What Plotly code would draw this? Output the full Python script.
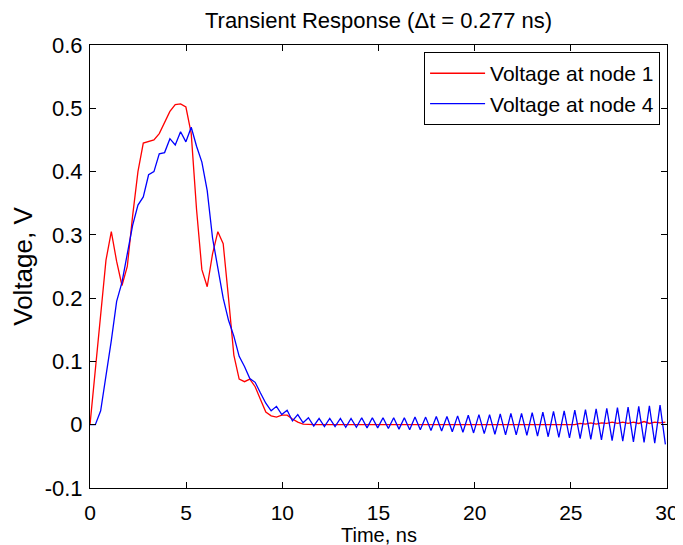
import plotly.graph_objects as go

dt = 0.277  # ns, time step from title
n_samples = 109

node1_v = [
    0.0, 0.09, 0.175, 0.26, 0.305, 0.258, 0.22, 0.25, 0.33, 0.40,
    0.445, 0.448, 0.45, 0.46, 0.478, 0.495, 0.506, 0.507, 0.502, 0.46,
    0.34, 0.245, 0.218, 0.27, 0.305, 0.286, 0.20, 0.11, 0.072, 0.068,
    0.072, 0.06, 0.04, 0.02, 0.014, 0.012, 0.015, 0.015, 0.009, 0.004,
    0.001, 0.0, 0.0, 0.0, 0.0, 0.0, 0.0, 0.0, 0.0, 0.0,
    0.0, 0.0, 0.0, 0.0, 0.0, 0.0, 0.0, 0.0, 0.0, 0.0,
    0.0, 0.0, 0.0, 0.0, 0.0, 0.0, 0.0, 0.0, 0.0, 0.0,
    0.0, 0.0, 0.0, 0.0, 0.0, 0.0, 0.0, 0.0, 0.0, 0.0,
    0.0, 0.0, 0.0, 0.0, 0.0, 0.0, 0.0, 0.0, 0.0, 0.0,
    0.001, 0.0, 0.002, 0.001, 0.003, 0.001, 0.003, 0.002, 0.004, 0.002,
    0.004, 0.002, 0.004, 0.002, 0.005, 0.002, 0.004, 0.003, 0.004,
]

node4_v = [
    0.0, 0.0, 0.022, 0.075, 0.133, 0.195, 0.225, 0.27, 0.315, 0.347,
    0.36, 0.395, 0.40, 0.428, 0.43, 0.452, 0.442, 0.463, 0.447, 0.47,
    0.44, 0.415, 0.37, 0.295, 0.245, 0.20, 0.165, 0.14, 0.108, 0.092,
    0.073, 0.067, 0.05, 0.034, 0.022, 0.029, 0.016, 0.023, 0.006, 0.016,
    0.003, 0.011, -0.002, 0.010, -0.003, 0.010, -0.003, 0.010, -0.004, 0.010,
    -0.004, 0.011, -0.005, 0.011, -0.005, 0.011, -0.006, 0.011, -0.007, 0.011,
    -0.008, 0.012, -0.008, 0.012, -0.009, 0.013, -0.010, 0.013, -0.011, 0.014,
    -0.012, 0.015, -0.013, 0.016, -0.014, 0.016, -0.015, 0.017, -0.016, 0.018,
    -0.016, 0.018, -0.017, 0.019, -0.018, 0.020, -0.019, 0.021, -0.020, 0.022,
    -0.021, 0.023, -0.022, 0.024, -0.023, 0.025, -0.024, 0.026, -0.025, 0.027,
    -0.026, 0.028, -0.027, 0.029, -0.028, 0.030, -0.029, 0.031, -0.031,
]

time_ns = [k * dt for k in range(n_samples)]

x_ticks = [0, 5, 10, 15, 20, 25, 30]
y_ticks = [-0.1, 0.0, 0.1, 0.2, 0.3, 0.4, 0.5, 0.6]
y_tick_text = ["-0.1", "0", "0.1", "0.2", "0.3", "0.4", "0.5", "0.6"]

font_family = "Liberation Sans, Arial, sans-serif"
fs = 22

fig = go.Figure()
fig.add_trace(go.Scatter(x=time_ns, y=node1_v, mode="lines",
                         name="Voltage at node 1",
                         line=dict(color="#ff0000", width=1.3)))
fig.add_trace(go.Scatter(x=time_ns, y=node4_v, mode="lines",
                         name="Voltage at node 4",
                         line=dict(color="#0000ff", width=1.3)))

axis_common = dict(showline=True, linecolor="black", linewidth=1, mirror="ticks",
                   ticks="inside", ticklen=6, tickcolor="black", showgrid=False,
                   zeroline=False, automargin=False)

fig.update_layout(
    width=683, height=545,
    paper_bgcolor="white", plot_bgcolor="white",
    font=dict(family=font_family, size=fs, color="black"),
    margin=dict(l=82, r=24, t=37, b=65),
    title=dict(text="Transient Response (\u0394t = 0.277 ns)", x=0.5, xanchor="center",
               xref="paper", y=0.978, yanchor="middle", font=dict(size=fs)),
    xaxis=dict(range=[0, 30], tickvals=x_ticks, ticklabelstandoff=6,
               tickfont=dict(size=21, color="black"), **axis_common),
    yaxis=dict(range=[-0.1, 0.6], tickvals=y_ticks, ticktext=y_tick_text,
               ticklabelstandoff=2, tickfont=dict(size=fs, color="black"),
               title=dict(text="Voltage, V", standoff=4), **axis_common),
    legend=dict(x=0.988, y=0.984, xanchor="right", yanchor="top",
                bgcolor="white", bordercolor="black", borderwidth=1,
                font=dict(size=21), tracegroupgap=0, itemwidth=55),
    showlegend=True,
)

fig.add_annotation(text="Time, ns", x=0.5, xref="paper", y=0, yref="paper",
                   xanchor="center", yanchor="top", yshift=-34, showarrow=False,
                   font=dict(size=20))

fig.write_html("out.html")
